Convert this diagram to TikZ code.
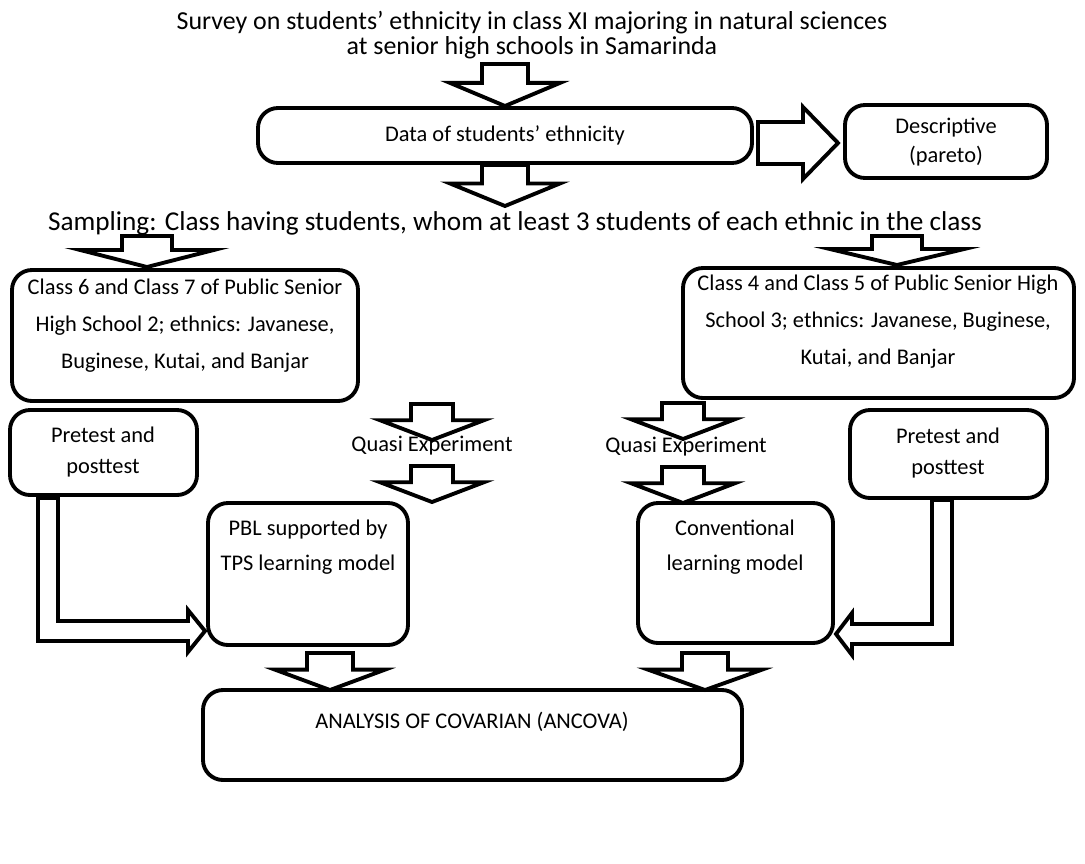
\documentclass[tikz,border=0pt]{standalone}
\usepackage{fontspec}
\setmainfont{Carlito}
\usetikzlibrary{fit,calc}

\tikzset{
  box/.style={draw, line width=2.2pt, rounded corners=0.4cm, inner sep=0pt},
  txt/.style={align=center, inner sep=0pt, font=\fontsize{12.75}{21}\selectfont},
  blk/.style={draw, line width=2.2pt, fill=white, line join=miter},
  % block arrow pointing down: half head width, length, half shaft width
  pics/blkdn/.style n args={3}{code={
    \draw[blk] (-#3,0) -- (#3,0) -- (#3,0.45*#2) -- (#1,0.45*#2) -- (0,#2)
      -- (-#1,0.45*#2) -- (-#3,0.45*#2) -- cycle;
  }}
}

\begin{document}
\begin{tikzpicture}[x=0.02cm, y=-0.02cm]
  \useasboundingbox (0,0) rectangle (1085,863);

  % titles and free texts
  \node[txt, font=\fontsize{14.75}{14.5}\selectfont] (survey) at (532,35)
    {Survey on students’ ethnicity in class XI majoring in natural sciences\\at senior high schools in Samarinda};
  \node[txt, font=\fontsize{15.5}{16}\selectfont] (sampling) at (515,223)
    {Sampling: Class having students, whom at least 3 students of each ethnic in the class};

  % boxes
  \node[box, fit={(258,108) (752,163)}] (data) {};
  \node[txt] (dataT) at (data.center) {Data of students’ ethnicity};
  \node[box, fit={(845,105) (1047,178)}] (desc) {};
  \node[txt, font=\fontsize{12.75}{17}\selectfont] (descT) at (946,142) {Descriptive\\(pareto)};

  \node[box, fit={(12,270) (358,401)}] (classL) {};
  \node[txt] (classLT) at (185,326) {Class 6 and Class 7 of Public Senior\\High School 2; ethnics: Javanese,\\Buginese, Kutai, and Banjar};
  \node[box, fit={(683,268) (1074,398)}] (classR) {};
  \node[txt] (classRT) at (878,322) {Class 4 and Class 5 of Public Senior High\\School 3; ethnics: Javanese, Buginese,\\Kutai, and Banjar};

  \node[box, fit={(10,410) (197,495)}] (preL) {};
  \node[txt, font=\fontsize{12.75}{17.5}\selectfont] (preLT) at (103,452) {Pretest and\\posttest};
  \node[box, fit={(850,410) (1047,498)}] (preR) {};
  \node[txt, font=\fontsize{12.75}{17.5}\selectfont] (preRT) at (948,453) {Pretest and\\posttest};

  \node[txt] (quasiL) at (432,446) {Quasi Experiment};
  \node[txt] (quasiR) at (686,447) {Quasi Experiment};

  \node[box, fit={(208,503) (408,645)}] (pbl) {};
  \node[txt, font=\fontsize{12.75}{20}\selectfont] (pblT) at (308,547) {PBL supported by\\TPS learning model};
  \node[box, fit={(638,503) (833,643)}] (conv) {};
  \node[txt, font=\fontsize{12.75}{20}\selectfont] (convT) at (735,547) {Conventional\\learning model};

  \node[box, fit={(203,690) (742,780)}] (ancova) {};
  \node[txt] (ancovaT) at (472,722) {ANALYSIS OF COVARIAN (ANCOVA)};

  % block arrows
  \pic at (505,64) {blkdn={55}{42}{23}};
  \pic at (505,165) {blkdn={55}{41}{23}};
  \draw[blk] (758,122) -- (803,122) -- (803,107) -- (838,143) -- (803,179)
    -- (803,164) -- (758,164) -- cycle;
  \pic at (147,236) {blkdn={67}{31}{25}};
  \pic at (897,236) {blkdn={67}{29}{25}};
  \pic at (432,404) {blkdn={52}{36}{21}};
  \pic at (432,466) {blkdn={52}{36}{21}};
  \pic at (683,403) {blkdn={52}{36}{21}};
  \pic at (683,467) {blkdn={52}{36}{21}};
  \pic at (330,653) {blkdn={55}{37}{23}};
  \pic at (705,653) {blkdn={57}{37}{23}};

  % L-shaped arrows from pretest boxes
  \draw[blk] (38,498) -- (58,498) -- (58,621) -- (188,621) -- (188,610)
    -- (205,631) -- (188,652) -- (188,641) -- (38,641) -- cycle;
  \draw[blk] (952,500) -- (932,500) -- (932,624) -- (852,624) -- (852,613)
    -- (836,634) -- (852,655) -- (852,644) -- (952,644) -- cycle;
\end{tikzpicture}
\end{document}
